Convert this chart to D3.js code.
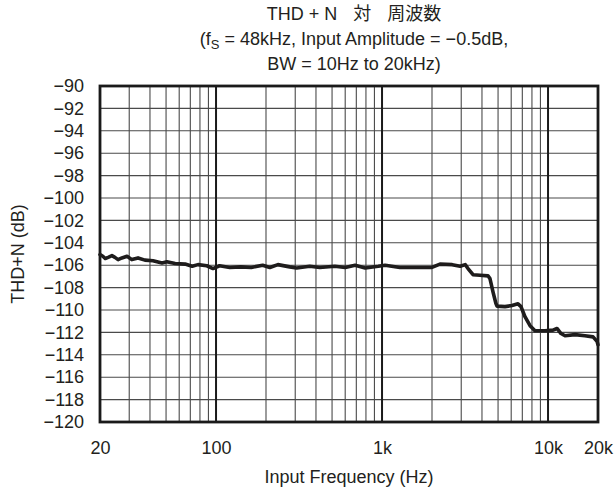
<!DOCTYPE html>
<html>
<head>
<meta charset="utf-8">
<script src="https://cdn.jsdelivr.net/npm/d3@7"></script>
<style>
  html, body { margin: 0; padding: 0; background: #fff; }
  svg { display: block; }
  text { font-family: "Liberation Sans", Arial, sans-serif; fill: #231f20; }
  .cjk { font-family: "Noto Sans CJK JP", "Noto Sans CJK SC", sans-serif; }
</style>
</head>
<body>
<svg id="chart" width="614" height="495"></svg>
<script>
// ---- data ----
const freqHz = [20, 20.8, 21.5, 22.4, 23.6, 24.6, 25.7, 27.1, 29.1, 31.1, 33.9, 37.3, 41.7, 47.3, 50.6, 56.7, 65.1, 71.8, 77.9, 88, 95.9,
  105, 121, 141, 163, 191, 211, 236, 278, 306, 367, 422, 520, 600, 688, 792, 949, 1044, 1282, 1571, 1996, 2234, 2646, 2956, 3170,
  3296, 3533, 3893, 4349, 4469, 4664, 4850, 4927, 5504, 6064, 6592, 6872, 7263, 7791, 8343, 9580, 10717, 11325, 11970, 12660,
  14530, 16680, 18670, 19730, 20000];
const thdDb = [-105.05, -105.2, -105.4, -105.3, -105.15, -105.3, -105.5, -105.35, -105.2, -105.5, -105.35, -105.55, -105.6, -105.8,
  -105.7, -105.85, -105.9, -106.1, -105.95, -106.05, -106.3,
  -106.05, -106.2, -106.15, -106.2, -106.0, -106.2, -105.95, -106.15, -106.25, -106.1, -106.2, -106.1, -106.2, -106.0, -106.25,
  -106.1, -106.0, -106.2, -106.2, -106.2, -105.9, -105.95, -106.1, -105.95,
  -106.3, -106.85, -106.9, -106.95, -107.2, -108.4, -109.4, -109.65, -109.7, -109.6, -109.45, -109.7, -110.6, -111.4, -111.85, -111.85,
  -111.8, -111.65, -112.1, -112.3, -112.2, -112.3, -112.4, -112.8, -113.1];

const yTicks = [-90, -92, -94, -96, -98, -100, -102, -104, -106, -108, -110, -112, -114, -116, -118, -120];
const xTickValues = [20, 100, 1000, 10000, 20000];
const xTickLabels = ["20", "100", "1k", "10k", "20k"];
const minorFreqs = [30, 40, 50, 60, 70, 80, 90, 200, 300, 400, 500, 600, 700, 800, 900,
  2000, 3000, 4000, 5000, 6000, 7000, 8000, 9000];
const decadeFreqs = [100, 1000, 10000];

const titleLine1 = "THD + N";
const titleCjk1 = "対";
const titleCjk2 = "周波数";
const xTitle = "Input Frequency (Hz)";
const yTitle = "THD+N (dB)";

// ---- layout ----
const L = 100, R = 598, T = 86, B = 422;
const FS = 18;
const svg = d3.select("#chart");

const x = d3.scaleLog().domain([20, 20000]).range([L, R]);
const y = d3.scaleLinear().domain([-120, -90]).range([B, T]);

// grid
const g = svg.append("g");
g.selectAll("line.hg").data(yTicks).join("line")
  .attr("x1", L).attr("x2", R).attr("y1", d => y(d)).attr("y2", d => y(d))
  .attr("stroke", "#4a4a4a").attr("stroke-width", 1.1);
g.selectAll("line.vg").data(minorFreqs).join("line")
  .attr("x1", d => x(d)).attr("x2", d => x(d)).attr("y1", T).attr("y2", B)
  .attr("stroke", "#4a4a4a").attr("stroke-width", 1.1);
g.selectAll("line.vd").data(decadeFreqs).join("line")
  .attr("x1", d => x(d)).attr("x2", d => x(d)).attr("y1", T).attr("y2", B)
  .attr("stroke", "#1a1a1a").attr("stroke-width", 2);

// border
svg.append("rect").attr("x", L).attr("y", T).attr("width", R - L).attr("height", B - T)
  .attr("fill", "none").attr("stroke", "#1a1a1a").attr("stroke-width", 2.8);

// data line
const line = d3.line().x((d, i) => x(freqHz[i])).y(d => y(d)).curve(d3.curveLinear);
svg.append("path").attr("d", line(thdDb))
  .attr("fill", "none").attr("stroke", "#1e1c1c").attr("stroke-width", 3.6)
  .attr("stroke-linejoin", "round").attr("stroke-linecap", "round");

// axes (labels only)
const fmtMinus = d => String(d).replace("-", "\u2212");
const yAxis = d3.axisLeft(y).tickValues(yTicks).tickSize(0).tickPadding(0).tickFormat(fmtMinus);
const ya = svg.append("g").attr("transform", `translate(${L - 16},0)`).call(yAxis);
ya.select(".domain").remove();
ya.selectAll("text").attr("font-size", FS).attr("font-family", "Liberation Sans, Arial, sans-serif").attr("fill", "#231f20");

const xAxis = d3.axisBottom(x).tickValues(xTickValues).tickSize(0).tickPadding(0)
  .tickFormat((d, i) => xTickLabels[i]);
const xa = svg.append("g").attr("transform", `translate(0,${B + 19})`).call(xAxis);
xa.select(".domain").remove();
xa.selectAll("text").attr("font-size", FS).attr("font-family", "Liberation Sans, Arial, sans-serif").attr("fill", "#231f20");

// titles
const cx = 354;
const t1 = svg.append("text").attr("x", cx).attr("y", 20).attr("text-anchor", "middle").attr("font-size", FS);
t1.append("tspan").text(titleLine1);
t1.append("tspan").attr("class", "cjk").attr("dx", 16).text(titleCjk1);
t1.append("tspan").attr("class", "cjk").attr("dx", 16).text(titleCjk2);

const t2 = svg.append("text").attr("x", cx).attr("y", 45).attr("text-anchor", "middle").attr("font-size", FS);
t2.append("tspan").text("(f");
t2.append("tspan").attr("font-size", 13).attr("dy", 4).text("S");
t2.append("tspan").attr("dy", -4).text(" = 48kHz, Input Amplitude = \u22120.5dB,");

svg.append("text").attr("x", cx).attr("y", 70).attr("text-anchor", "middle").attr("font-size", FS)
  .text("BW = 10Hz to 20kHz)");

svg.append("text").attr("x", (L + R) / 2).attr("y", 483).attr("text-anchor", "middle").attr("font-size", FS)
  .text(xTitle);

svg.append("text").attr("transform", `translate(24,${(T + B) / 2}) rotate(-90)`)
  .attr("text-anchor", "middle").attr("font-size", FS).text(yTitle);
</script>
</body>
</html>
